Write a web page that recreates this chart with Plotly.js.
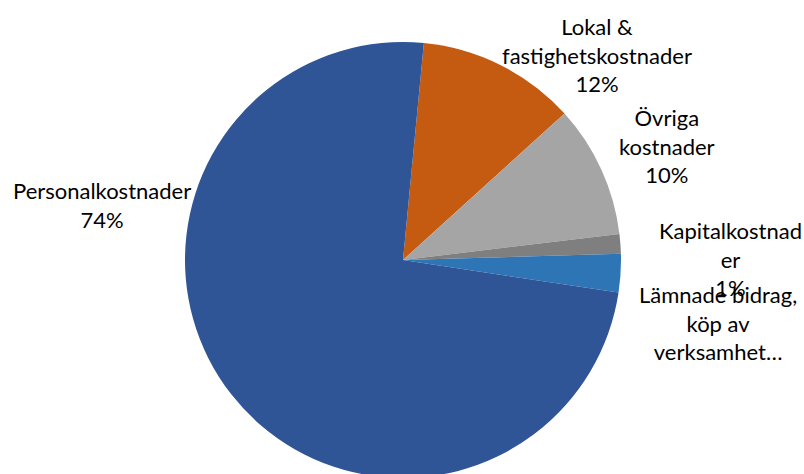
<!DOCTYPE html>
<html><head><meta charset="utf-8">
<script src="https://cdn.plot.ly/plotly-3.0.1.min.js"></script>
<style>html,body{margin:0;padding:0;overflow:hidden;background:#fff}#c{width:804px;height:480px}</style>
</head><body><div id="c"></div>
<script>
var categories = ["Lokal & fastighetskostnader", "Övriga kostnader", "Kapitalkostnader", "Lämnade bidrag, köp av verksamhet…", "Personalkostnader"];
var values = [11.75, 9.8, 1.45, 2.85, 74.1];
var displayLabels = ["Lokal &<br>fastighetskostnader", "Övriga<br>kostnader", "Kapitalkostnad<br>er", "Lämnade bidrag,<br>köp av<br>verksamhet…", "Personalkostnader"];
var showPct = [true, true, true, false, true];
var colors = ["#C55A11", "#A5A5A5", "#7F7F7F", "#2E75B6", "#2F5597"];
var labelPos = [[597, 55], [667, 146], [730, 259], [718, 323], [102, 205]];

var W = 804, H = 480;
var total = values.reduce(function(a,b){return a+b;}, 0);
var annotations = categories.map(function(c, i){
  var t = displayLabels[i];
  if (showPct[i]) t += "<br>" + Math.round(values[i] / total * 100) + "%";
  return {text: t, xref: "paper", yref: "paper", x: labelPos[i][0] / W, y: 1 - labelPos[i][1] / H,
    xanchor: "center", yanchor: "middle", showarrow: false, align: "center",
    font: {family: "Lato, 'Open Sans', sans-serif", size: 22, color: "#000"}};
});

var trace = {
  type: "pie", labels: categories, values: values, sort: false, direction: "clockwise",
  rotation: 5.5, marker: {colors: colors, line: {width: 0}}, textinfo: "none", hoverinfo: "none",
  domain: {x: [185 / W, 621 / W], y: [1 - 478 / H, 1 - 42 / H]}
};
Plotly.newPlot("c", [trace], {
  width: W, height: H, margin: {l: 0, r: 0, t: 0, b: 0}, showlegend: false,
  paper_bgcolor: "#fff", annotations: annotations
}, {staticPlot: true});
</script></body></html>
